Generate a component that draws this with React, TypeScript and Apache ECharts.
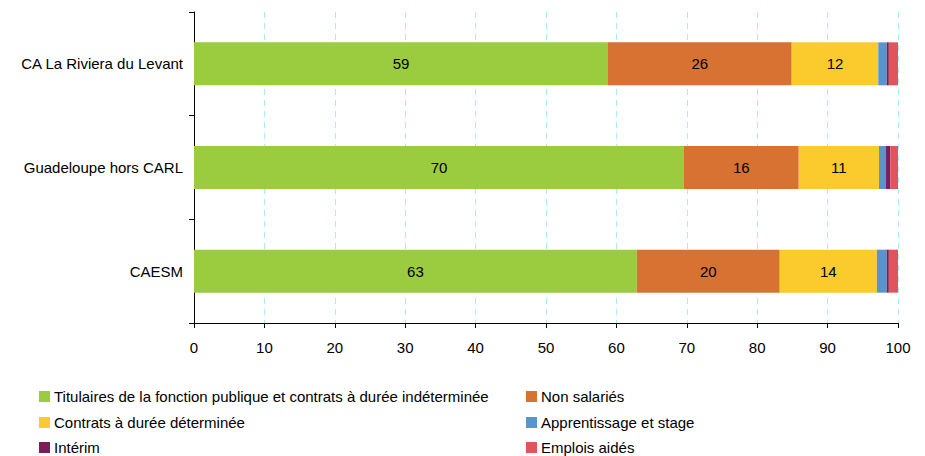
import React, { useEffect, useRef } from "react";
import * as echarts from "echarts";

const categories = ["CAESM", "Guadeloupe hors CARL", "CA La Riviera du Levant"];
const seriesNames = [
  "Titulaires de la fonction publique et contrats à durée indéterminée",
  "Non salariés",
  "Contrats à durée déterminée",
  "Apprentissage et stage",
  "Intérim",
  "Emplois aidés",
];
const titulaires = [62.9, 69.6, 58.8];
const nonSalaries = [20.3, 16.3, 26.1];
const cdd = [13.8, 11.4, 12.3];
const apprentissage = [1.4, 1.0, 1.2];
const interim = [0.3, 0.6, 0.3];
const emploisAides = [1.3, 1.1, 1.3];
const xTicks = [0, 10, 20, 30, 40, 50, 60, 70, 80, 90, 100];

const colors = ["#9BCB3F", "#D77232", "#FBCB2E", "#5895CC", "#7A1F55", "#E2545B"];
const values = [titulaires, nonSalaries, cdd, apprentissage, interim, emploisAides];
const FONT = "'Liberation Sans', Arial, sans-serif";

const legendCols = [39, 526];
const legendRows = [389, 415, 440];

export default function App() {
  const ref = useRef<HTMLDivElement>(null);
  useEffect(() => {
    const chart = echarts.init(ref.current!, null, { renderer: "svg" });
    chart.setOption({
      animation: false,
      textStyle: { fontFamily: FONT },
      grid: { left: 194, right: 27, top: 12, bottom: 133, containLabel: false },
      legend: seriesNames.map((name, i) => ({
        orient: "horizontal",
        left: legendCols[i % 2],
        top: legendRows[Math.floor(i / 2)],
        padding: 0,
        itemWidth: 11,
        itemHeight: 11,
        itemGap: 0,
        icon: "rect",
        data: [name],
        textStyle: { fontFamily: FONT, fontSize: 15, color: "#000", padding: [0, 0, 0, -1] },
      })),
      xAxis: {
        type: "value",
        min: 0,
        max: 100,
        interval: 10,
        axisLine: { show: true, lineStyle: { color: "#000", width: 1 } },
        axisTick: { show: true, length: 5, lineStyle: { color: "#000" } },
        axisLabel: {
          color: "#000",
          fontSize: 15,
          margin: 17,
          fontFamily: FONT,
          formatter: (v: number) => (xTicks.includes(v) ? String(v) : ""),
        },
        splitLine: { show: true, lineStyle: { color: "#A8ECF8", type: [6, 5], width: 1 } },
      },
      yAxis: {
        type: "category",
        data: categories,
        axisLine: { show: true, lineStyle: { color: "#000", width: 1 } },
        axisTick: { show: true, length: 5, lineStyle: { color: "#000" } },
        axisLabel: { color: "#000", fontSize: 15, margin: 11, fontFamily: FONT },
        splitLine: { show: false },
      },
      series: seriesNames.map((name, i) => ({
        name,
        type: "bar",
        stack: "total",
        barWidth: 43,
        data: values[i],
        itemStyle: { color: colors[i] },
        label: {
          show: i < 3,
          position: "inside",
          color: "#000",
          fontSize: 15,
          fontFamily: FONT,
          formatter: (p: any) => String(Math.round(p.value)),
        },
      })),
    });
    return () => chart.dispose();
  }, []);
  return (
    <div
      ref={ref}
      style={{ position: "fixed", left: 0, top: 0, width: 925, height: 456, background: "#fff" }}
    />
  );
}
